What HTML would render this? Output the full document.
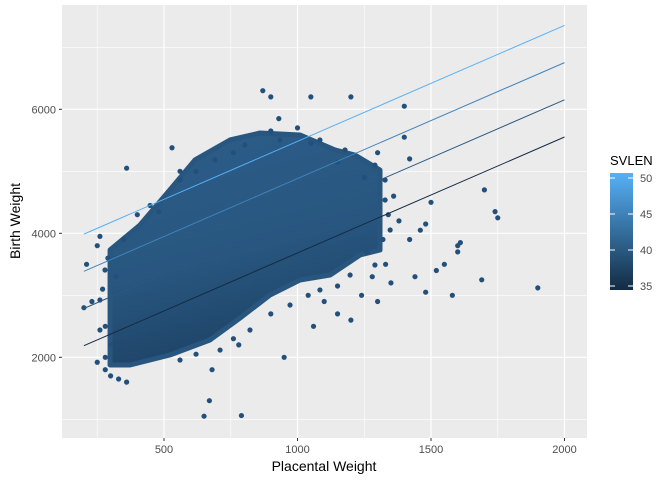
<!DOCTYPE html>
<html><head><meta charset="utf-8"><style>
body{margin:0;background:#fff;font-family:"Liberation Sans",sans-serif}
svg text{font-family:"Liberation Sans",sans-serif}
</style></head><body>
<svg id="c" width="672" height="480" xmlns="http://www.w3.org/2000/svg">
<defs>
<linearGradient id="bar" x1="0" y1="1" x2="0" y2="0"><stop offset="0" stop-color="#132B43"/><stop offset="1" stop-color="#56B1F7"/></linearGradient>
<linearGradient id="blob" x1="0" y1="0" x2="0.3" y2="1"><stop offset="0" stop-color="#2c5e8a"/><stop offset="0.6" stop-color="#28567f"/><stop offset="1" stop-color="#1e4366"/></linearGradient>
</defs>
<rect x="62" y="5" width="525" height="433" fill="#EBEBEB"/>
<g id="grid"></g>
<g id="marks"></g>
<g id="axes"></g>
<text x="324" y="471" text-anchor="middle" font-size="14" fill="#000">Placental Weight</text>
<text transform="translate(20,221) rotate(-90)" text-anchor="middle" font-size="14" fill="#000">Birth Weight</text>
<g>
<text x="610" y="165" font-size="13" fill="#000">SVLEN</text>
<rect x="610" y="173" width="23" height="117" fill="url(#bar)"/>
<g id="leg"></g>
</g>
</svg>
<script>
const xTicks=[500,1000,1500,2000];
const yTicks=[2000,4000,6000];
const svlenLevels=[35,40,45,50];
const lineIntercept=1813, lineSlope=1.87, svlenEffect=120;
const hull=[[298,1876],[298,3731],[410,4134],[522,4700],[616,5183],[747,5505],[860,5618],[1009,5586],[1140,5344],[1215,5263],[1309,5021],[1309,3731],[1234,3650],[1122,3327],[1009,3247],[897,3005],[785,2634],[672,2279],[522,2037],[373,1876]];
const outliers=[[650,1050],[790,1060],[670,1300],[1050,6200],[1200,6200],[1400,6050],[870,6300],[900,6200],[930,5850],[1900,3120],[1750,4250],[1740,4350],[1700,4700],[1690,3250],[1600,3800],[1610,3850],[1550,3500],[1520,3400],[1580,3000],[1480,3050],[1440,3300],[1420,3900],[1480,4150],[1500,4500],[1420,5200],[1400,5550],[1460,4050],[250,1920],[280,1800],[300,1700],[360,1600],[330,1650],[200,2800],[230,2900],[210,3500],[250,3800],[260,3950],[360,5050],[530,5380],[560,5000],[400,4300],[1000,5700],[1250,4900],[1300,2900],[1350,3200],[1100,2900],[1150,2700],[1200,2600],[950,2000],[1060,2500],[680,1800],[780,2200],[1360,4600],[1380,4200],[1330,3500],[1280,3300],[1240,3000],[300,2200],[280,2500],[270,3100],[320,3300],[1600,3700],[1300,5300],
[448,4448],[560,4860],[691,5183],[803,5424],[934,5505],[1084,5505],[1178,5344],[1290,5100],[560,1956],[710,2117],[822,2440],[972,2843],[1084,3086],[1197,3327],[1290,3489],[1328,4537],[1347,4053],[1328,4860],[260,2924],[260,2440],[279,3408],[480,4350],[620,5000],[760,5300],[900,5650],[1050,5450],[1150,5150],[620,2050],[760,2300],[900,2700],[1040,3000],[1150,3150],[1260,3700],[1340,4300],[1320,3900],[280,2000],[290,3600],[350,3900]];
const X=v=>164+(v-500)*0.267, Y=v=>357.3-(v-2000)*0.062;
const ns="http://www.w3.org/2000/svg";
function mk(t,a,p){const e=document.createElementNS(ns,t);for(const k in a)e.setAttribute(k,a[k]);p.appendChild(e);return e;}
const g=document.getElementById('grid'),m=document.getElementById('marks'),ax=document.getElementById('axes'),lg=document.getElementById('leg');
for(let v=250;v<=2000;v+=250){const l=mk('line',{x1:X(v),x2:X(v),y1:5,y2:438,stroke:'#fff','stroke-width':v%500?0.6:1.2},g);}
for(let v=1000;v<=7000;v+=1000){const l=mk('line',{x1:62,x2:587,y1:Y(v),y2:Y(v),stroke:'#fff','stroke-width':v%2000?0.6:1.2},g);}
const h=mk('polygon',{points:hull.map(p=>X(p[0])+','+Y(p[1])).join(' '),fill:'url(#blob)',stroke:'#28567f','stroke-width':5,'stroke-linejoin':'round'},m);


outliers.forEach(p=>{const c=mk('circle',{cx:X(p[0]),cy:Y(p[1]),r:2.6,fill:'#23507a'},m);});
function col(s){const t=(s-35)/15;const a=[0x13,0x2B,0x43],b=[0x56,0xB1,0xF7];return 'rgb('+a.map((v,i)=>Math.round(v+(b[i]-v)*t)).join(',')+')';}
svlenLevels.forEach(s=>{const f=x=>lineIntercept+lineSlope*x+(s-35)*svlenEffect;const l=mk('line',{x1:X(200),y1:Y(f(200)),x2:X(2000),y2:Y(f(2000)),stroke:col(s),'stroke-width':1},m);});
xTicks.forEach(v=>{const l=mk('line',{x1:X(v),x2:X(v),y1:438,y2:441,stroke:'#333'},ax);const t=mk('text',{x:X(v),y:453,'text-anchor':'middle','font-size':11,fill:'#4D4D4D'},ax);t.textContent=v;});
yTicks.forEach(v=>{const l=mk('line',{x1:59,x2:62,y1:Y(v),y2:Y(v),stroke:'#333'},ax);const t=mk('text',{x:56,y:Y(v)+4,'text-anchor':'end','font-size':11,fill:'#4D4D4D'},ax);t.textContent=v;});
svlenLevels.forEach(s=>{const y=286-(s-35)/15*108;mk('line',{x1:610,x2:615,y1:y,y2:y,stroke:'#fff'},lg);mk('line',{x1:628,x2:633,y1:y,y2:y,stroke:'#fff'},lg);const t=mk('text',{x:640,y:y+4,'font-size':11,fill:'#4D4D4D'},lg);t.textContent=s;});
</script>
</body></html>
